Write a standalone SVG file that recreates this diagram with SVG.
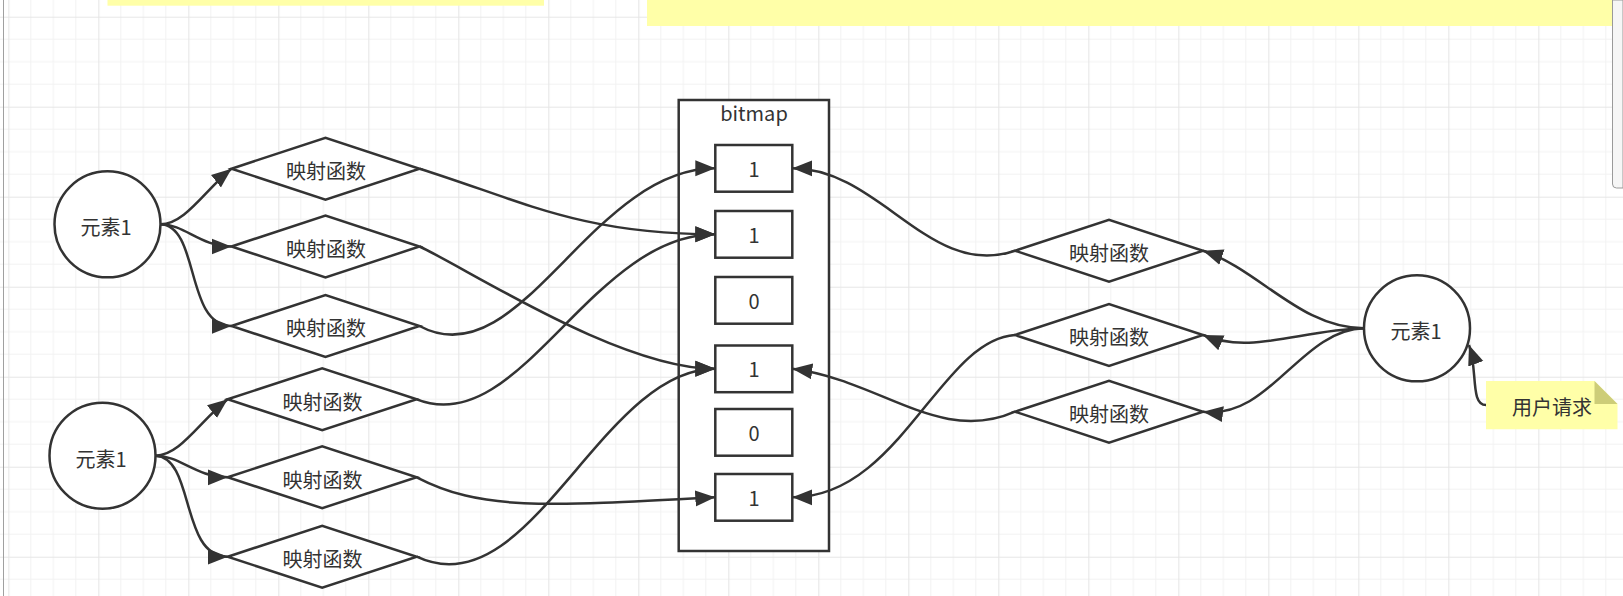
<svg xmlns="http://www.w3.org/2000/svg" width="1623" height="596" viewBox="0 0 1623 596">
<defs>
<pattern id="grid" patternUnits="userSpaceOnUse" x="8.3" y="16.7" width="90" height="90">
<path d="M22.5,0V90M45,0V90M67.5,0V90M0,22.5H90M0,45H90M0,67.5H90" stroke="#f2f2f2" stroke-width="1" fill="none"/>
<path d="M0.5,0V90M0,0.5H90" stroke="#e6e6e6" stroke-width="1.2" fill="none"/>
</pattern>
<marker id="arr" markerUnits="userSpaceOnUse" markerWidth="21" markerHeight="17" refX="20" refY="8" orient="auto" viewBox="0 0 21 16">
<path d="M0,0 L20,8 L0,16 z" fill="#333"/>
</marker>
<style>
.shape{fill:#fff;stroke:#333;stroke-width:2.5}
.conn{fill:none;stroke:#333;stroke-width:2.5;marker-end:url(#arr)}
.lbl{font-family:"Noto Sans CJK SC","Noto Sans",sans-serif;font-size:20px;fill:#333;text-anchor:middle;dominant-baseline:central}
.note{fill:#ffffa8}
</style>
</defs>
<rect width="1623" height="596" fill="#fff"/>
<rect width="1623" height="596" fill="url(#grid)"/>
<line x1="3.5" y1="0" x2="3.5" y2="596" stroke="#a0a0a0" stroke-width="1"/>
<rect class="note" x="107.5" y="0" width="436.5" height="5.7"/>
<rect class="note" x="647" y="0" width="965" height="26"/>
<path d="M1612.5,0 V184 Q1612.5,188 1616.5,188 H1623 V0 z" fill="#f6f6f6" stroke="#9a9a9a" stroke-width="1"/>

<g id="bitmap">
<rect class="shape" x="678.7" y="100" width="150.3" height="451"/>
<text class="lbl" x="754" y="112">bitmap</text>
</g>

<g id="elem-left-1"><circle class="shape" cx="107.5" cy="224.3" r="53"/><text class="lbl" x="106" y="226.5">元素1</text></g>
<g id="elem-left-2"><circle class="shape" cx="102.5" cy="455.7" r="53"/><text class="lbl" x="101" y="458">元素1</text></g>
<g id="elem-right"><circle class="shape" cx="1417" cy="328.3" r="53"/><text class="lbl" x="1416" y="330">元素1</text></g>

<g id="map-l1"><polygon class="shape" points="231.5,168.7 325.5,137.7 419.5,168.7 325.5,199.7"/><text class="lbl" x="326" y="170.5">映射函数</text></g>
<g id="map-l2"><polygon class="shape" points="231.5,246.5 325.5,215.5 419.5,246.5 325.5,277.5"/><text class="lbl" x="326" y="248.3">映射函数</text></g>
<g id="map-l3"><polygon class="shape" points="231.5,326 325.5,295 419.5,326 325.5,357"/><text class="lbl" x="326" y="327.8">映射函数</text></g>
<g id="map-l4"><polygon class="shape" points="227.7,399.3 322.2,368.3 416.7,399.3 322.2,430.3"/><text class="lbl" x="322.5" y="401.1">映射函数</text></g>
<g id="map-l5"><polygon class="shape" points="227.7,477.3 322.2,446.3 416.7,477.3 322.2,508.3"/><text class="lbl" x="322.5" y="479.1">映射函数</text></g>
<g id="map-l6"><polygon class="shape" points="227.7,556.7 322.2,525.7 416.7,556.7 322.2,587.7"/><text class="lbl" x="322.5" y="558.5">映射函数</text></g>

<g id="map-r1"><polygon class="shape" points="1015,250.7 1109,219.7 1203,250.7 1109,281.7"/><text class="lbl" x="1109" y="252.5">映射函数</text></g>
<g id="map-r2"><polygon class="shape" points="1015,335 1109,304 1203,335 1109,366"/><text class="lbl" x="1109" y="336.8">映射函数</text></g>
<g id="map-r3"><polygon class="shape" points="1015,411.7 1109,380.7 1203,411.7 1109,442.7"/><text class="lbl" x="1109" y="413.5">映射函数</text></g>

<g id="bit-1"><rect class="shape" x="715.3" y="145" width="77" height="46.7"/><text class="lbl" x="754" y="168.3">1</text></g>
<g id="bit-2"><rect class="shape" x="715.3" y="211" width="77" height="46.7"/><text class="lbl" x="754" y="234.3">1</text></g>
<g id="bit-3"><rect class="shape" x="715.3" y="277" width="77" height="46.7"/><text class="lbl" x="754" y="300.3">0</text></g>
<g id="bit-4"><rect class="shape" x="715.3" y="345.5" width="77" height="46.7"/><text class="lbl" x="754" y="368.8">1</text></g>
<g id="bit-5"><rect class="shape" x="715.3" y="409" width="77" height="46.7"/><text class="lbl" x="754" y="432.3">0</text></g>
<g id="bit-6"><rect class="shape" x="715.3" y="474" width="77" height="46.7"/><text class="lbl" x="754" y="497.3">1</text></g>

<g id="user-request">
<polygon class="note" points="1486,381 1594.5,381 1617.5,404 1617.5,429.3 1486,429.3"/>
<polygon points="1594.5,381 1617.5,404 1594.5,404" fill="#cdcd78"/>
<text class="lbl" x="1552" y="406.5">用户请求</text>
</g>

<g id="connectors">
<path class="conn" d="M160.5,224.3 C185,224.3 205,190 231.5,168.7"/>
<path class="conn" d="M160.5,224.3 C185,224.3 200,246.5 231.5,246.5"/>
<path class="conn" d="M160.5,224.3 C200,226 185,326 231.5,326"/>
<path class="conn" d="M155.5,455.7 C180,455.7 200,421 227.7,399.3"/>
<path class="conn" d="M155.5,455.7 C180,455.7 196,477.3 227.7,477.3"/>
<path class="conn" d="M155.5,455.7 C195,457.5 180,556.7 227.7,556.7"/>
<path class="conn" d="M419.5,168.7 C520,200 580,234.3 715.3,234.3"/>
<path class="conn" d="M419.5,246.5 C470,270 620,368.8 715.3,368.8"/>
<path class="conn" d="M419.5,326 C520,380 590,168.3 715.3,168.3"/>
<path class="conn" d="M416.7,399.3 C520,440 590,234.3 715.3,234.3"/>
<path class="conn" d="M416.7,477.3 C480,510 540,507 715.3,497.3"/>
<path class="conn" d="M416.7,556.7 C530,610 600,368.8 715.3,368.8"/>
<path class="conn" d="M1015,250.7 C930,280 880,168.3 792.3,168.3"/>
<path class="conn" d="M1015,335 C940,340 900,497.3 792.3,497.3"/>
<path class="conn" d="M1015,411.7 C940,445 880,380 792.3,368.8"/>
<path class="conn" d="M1364,328.3 C1300,328 1260,270 1203,250.7"/>
<path class="conn" d="M1364,328.3 C1300,330 1250,355 1203,335"/>
<path class="conn" d="M1364,328.3 C1300,330 1270,420 1203,411.7"/>
<path class="conn" d="M1486,405 C1470,405 1478,370 1469,345"/>
</g>
</svg>
